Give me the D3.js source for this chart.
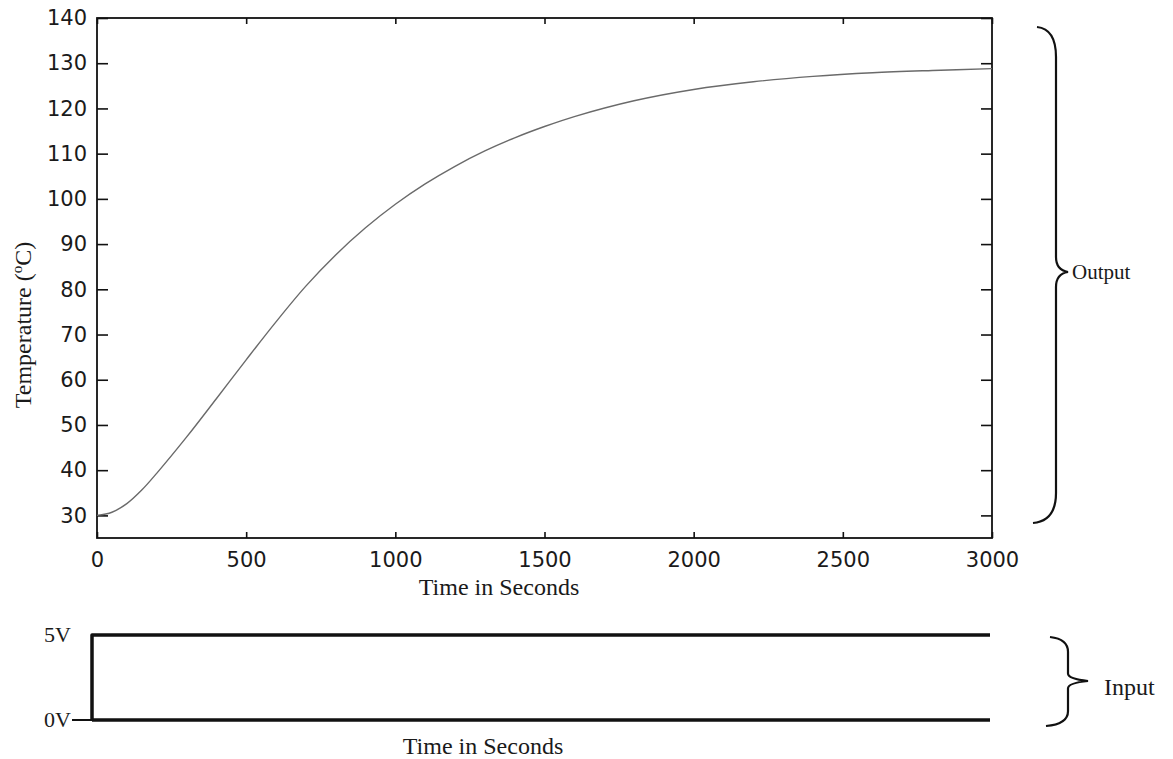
<!DOCTYPE html>
<html>
<head>
<meta charset="utf-8">
<script src="https://cdn.jsdelivr.net/npm/d3@7"></script>
<style>
  body { margin: 0; background: #fff; }
  svg { display: block; }
  .tick text { font-family: "DejaVu Sans", sans-serif; font-size: 21px; fill: #1a1a1a; }
  .serif { font-family: "Liberation Serif", "Times New Roman", serif; fill: #1a1a1a; }
</style>
</head>
<body>
<svg id="chart" width="1173" height="759"></svg>
<script>
// temperature response (output)
const timeSec = [0, 50, 100, 150, 200, 300, 400, 500, 600, 700, 800, 900, 1000, 1100, 1200, 1300, 1400, 1500, 1600, 1800, 2000, 2200, 2400, 2600, 2800, 3000];
const tempC   = [30, 30.7, 32.6, 35.6, 39.3, 47.3, 55.8, 64.4, 72.8, 80.7, 87.6, 93.6, 98.8, 103.3, 107.2, 110.6, 113.5, 116, 118.2, 121.7, 124.2, 125.9, 127.1, 127.9, 128.4, 128.8];

// step input
const inputTime = [0, 0, 3000];
const inputVolt = [0, 5, 5];
const baseTime  = [0, 3000];

// axis ticks
const xTicks = [0, 500, 1000, 1500, 2000, 2500, 3000];
const yTicks = [30, 40, 50, 60, 70, 80, 90, 100, 110, 120, 130, 140];
const voltTicks = [0, 5];
const voltLabels = ["0V", "5V"];

let svg = d3.select('#chart');

// scales for the output plot
let x = d3.scaleLinear().domain([0, 3000]).range([97, 992]);
let y = d3.scaleLinear().domain([25, 140]).range([538, 18]);

// scales for the input strip
let xi = d3.scaleLinear().domain([0, 3000]).range([92, 990]);
let yi = d3.scaleLinear().domain([0, 5]).range([720, 635]);

let plot = svg.append('g').attr('id', 'output');

// left axis, ticks pointing in
plot.append('g')
    .attr('transform', `translate(${x(0)},0)`)
    .call(d3.axisLeft(y).tickValues(yTicks).tickSizeInner(-11).tickSizeOuter(0).tickPadding(10))
    .call(g => g.select('.domain').remove());

// right axis, ticks only
plot.append('g')
    .attr('transform', `translate(${x(3000)},0)`)
    .call(d3.axisRight(y).tickValues(yTicks).tickSizeInner(-11).tickSizeOuter(0).tickFormat(''))
    .call(g => g.select('.domain').remove());

// bottom axis
plot.append('g')
    .attr('transform', `translate(0,${y(25)})`)
    .call(d3.axisBottom(x).tickValues(xTicks).tickFormat(d3.format('d'))
        .tickSizeInner(-6).tickSizeOuter(0).tickPadding(14))
    .call(g => g.select('.domain').remove());

// top axis, ticks only
plot.append('g')
    .attr('transform', `translate(0,${y(140)})`)
    .call(d3.axisTop(x).tickValues(xTicks).tickSizeInner(-6).tickSizeOuter(0).tickFormat(''))
    .call(g => g.select('.domain').remove());

plot.selectAll('.tick line').attr('stroke', '#111').attr('stroke-width', 1.6);

// frame
plot.append('rect')
    .attr('x', x(0)).attr('y', y(140))
    .attr('width', x(3000) - x(0)).attr('height', y(25) - y(140))
    .attr('fill', 'none').attr('stroke', '#111').attr('stroke-width', 1.8);

// the response curve
let line = d3.line()
    .x((d, i) => x(timeSec[i]))
    .y(d => y(d))
    .curve(d3.curveCatmullRom.alpha(0.5));

plot.append('path')
    .datum(tempC)
    .attr('d', line)
    .attr('fill', 'none')
    .attr('stroke', '#6a6a6a')
    .attr('stroke-width', 1.4);

// axis titles
plot.append('text')
    .attr('class', 'serif')
    .attr('x', 499).attr('y', 595)
    .attr('text-anchor', 'middle')
    .attr('font-size', 24)
    .text('Time in Seconds');

let ylab = plot.append('text')
    .attr('class', 'serif')
    .attr('transform', 'translate(31,325) rotate(-90)')
    .attr('text-anchor', 'middle')
    .attr('font-size', 24);
ylab.append('tspan').text('Temperature (');
ylab.append('tspan').attr('font-size', 15).attr('dy', -9).text('o');
ylab.append('tspan').attr('dy', 9).text('C)');

// input strip
let input = svg.append('g').attr('id', 'input');

// short lead-in at 0V
input.append('line')
    .attr('x1', 72).attr('x2', xi(0))
    .attr('y1', yi(0)).attr('y2', yi(0))
    .attr('stroke', '#111').attr('stroke-width', 2);

input.append('path')
    .datum(baseTime)
    .attr('d', d3.line().x(d => xi(d)).y(() => yi(0)))
    .attr('fill', 'none').attr('stroke', '#111').attr('stroke-width', 3.5);

input.append('path')
    .datum(inputVolt)
    .attr('d', d3.line().x((d, i) => xi(inputTime[i])).y(d => yi(d)))
    .attr('fill', 'none').attr('stroke', '#111').attr('stroke-width', 3.5)
    .attr('stroke-linejoin', 'round');

input.selectAll('text.volt')
    .data(voltTicks)
    .join('text')
    .attr('class', 'volt serif')
    .attr('x', 71)
    .attr('y', d => yi(d) + 7)
    .attr('text-anchor', 'end')
    .attr('font-size', 22)
    .text((d, i) => voltLabels[i]);

input.append('text')
    .attr('class', 'serif')
    .attr('x', 483).attr('y', 754)
    .attr('text-anchor', 'middle')
    .attr('font-size', 24)
    .text('Time in Seconds');

// curly braces
function brace(g, xTip, xSpine, xEnd, yTop, yMid, yBot) {
    let c = Math.min(30, (yBot - yTop) / 6);
    let p = d3.path();
    p.moveTo(xEnd, yTop);
    p.quadraticCurveTo(xSpine, yTop + 2, xSpine, yTop + c);
    p.lineTo(xSpine, yMid - c / 2);
    p.quadraticCurveTo(xSpine, yMid - 2, xTip, yMid);
    p.quadraticCurveTo(xSpine, yMid + 2, xSpine, yMid + c / 2);
    p.lineTo(xSpine, yBot - c);
    p.quadraticCurveTo(xSpine, yBot - 2, xEnd - 4, yBot);
    g.append('path')
        .attr('d', p.toString())
        .attr('fill', 'none').attr('stroke', '#111').attr('stroke-width', 2.2);
}

brace(svg, 1068, 1056, 1037, 27, 272, 523);
brace(svg, 1088, 1068, 1050, 637, 681, 726);

svg.append('text')
    .attr('class', 'serif')
    .attr('x', 1072).attr('y', 279)
    .attr('font-size', 21)
    .text('Output');

svg.append('text')
    .attr('class', 'serif')
    .attr('x', 1104).attr('y', 695)
    .attr('font-size', 24)
    .text('Input');
</script>
</body>
</html>
